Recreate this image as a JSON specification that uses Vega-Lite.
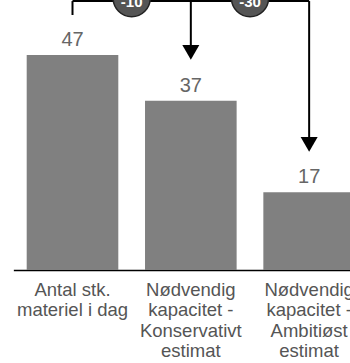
{
  "$schema": "https://vega.github.io/schema/vega-lite/v6.json",
  "width": 350,
  "height": 270,
  "autosize": {"type": "none"},
  "padding": {"left": 0, "right": 0, "top": 0, "bottom": 93},
  "config": {"view": {"stroke": null}, "font": "Liberation Sans"},
  "datasets": {
    "bars": [
      {"kategori": "Antal stk.|materiel i dag", "vaerdi": 47},
      {"kategori": "Nødvendig|kapacitet -|Konservativt|estimat", "vaerdi": 37},
      {"kategori": "Nødvendig|kapacitet -|Ambitiøst|estimat", "vaerdi": 17}
    ],
    "stems": [
      {"kategori": "Antal stk.|materiel i dag", "top": 58.8, "bund": 55.75},
      {"kategori": "Nødvendig|kapacitet -|Konservativt|estimat", "top": 58.8, "bund": 49.0},
      {"kategori": "Nødvendig|kapacitet -|Ambitiøst|estimat", "top": 58.8, "bund": 28.9}
    ],
    "spids": [
      {"kategori": "Nødvendig|kapacitet -|Konservativt|estimat", "y": 47.6},
      {"kategori": "Nødvendig|kapacitet -|Ambitiøst|estimat", "y": 27.45}
    ],
    "forskel": [
      {"kategori": "Antal stk.|materiel i dag", "tekst": "-10"},
      {"kategori": "Nødvendig|kapacitet -|Konservativt|estimat", "tekst": "-30"}
    ]
  },
  "encoding": {
    "x": {
      "field": "kategori",
      "type": "nominal",
      "sort": null,
      "scale": {"range": [13.35, 368.3], "paddingInner": 0.2257, "paddingOuter": 0.1128},
      "axis": {
        "title": null,
        "ticks": false,
        "labelAngle": 0,
        "labelExpr": "split(datum.label, '|')",
        "labelFontSize": 18.5,
        "labelLineHeight": 20.5,
        "labelColor": "#555555",
        "labelFont": "Liberation Sans",
        "labelPadding": 10,
        "labelOverlap": false,
        "labelBound": false,
        "labelLimit": 300,
        "domainColor": "#000000",
        "domainWidth": 1.5,
        "grid": false
      }
    }
  },
  "layer": [
    {
      "data": {"name": "bars"},
      "mark": {"type": "bar", "color": "#808080"},
      "encoding": {
        "y": {"field": "vaerdi", "type": "quantitative", "scale": {"domain": [0, 59.03], "nice": false}, "axis": null}
      }
    },
    {
      "data": {"name": "bars"},
      "mark": {"type": "text", "baseline": "alphabetic", "dy": -9, "fontSize": 20, "color": "#666666", "font": "Liberation Sans"},
      "encoding": {
        "y": {"field": "vaerdi", "type": "quantitative"},
        "text": {"field": "vaerdi", "type": "quantitative"}
      }
    },
    {
      "data": {"name": "stems"},
      "mark": {"type": "rule", "color": "#000000", "strokeWidth": 2},
      "encoding": {
        "y": {"field": "top", "type": "quantitative"},
        "y2": {"field": "bund"}
      }
    },
    {
      "data": {"name": "stems"},
      "mark": {"type": "line", "color": "#000000", "strokeWidth": 2, "clip": false},
      "encoding": {
        "y": {"field": "top", "type": "quantitative"}
      }
    },
    {
      "data": {"name": "spids"},
      "mark": {"type": "point", "shape": "triangle-down", "filled": true, "color": "#000000", "opacity": 1, "size": 290},
      "encoding": {
        "y": {"field": "y", "type": "quantitative"}
      }
    },
    {
      "data": {"name": "forskel"},
      "mark": {"type": "point", "shape": "circle", "filled": true, "fill": "#555555", "stroke": "#222222", "strokeWidth": 1.5, "opacity": 1, "size": 1380},
      "encoding": {
        "x": {"field": "kategori", "type": "nominal", "sort": null, "bandPosition": 1.146},
        "y": {"datum": 59.44, "type": "quantitative"}
      }
    },
    {
      "data": {"name": "forskel"},
      "mark": {"type": "text", "baseline": "alphabetic", "fontSize": 15, "fontWeight": "bold", "color": "#ffffff", "font": "Liberation Sans"},
      "encoding": {
        "x": {"field": "kategori", "type": "nominal", "sort": null, "bandPosition": 1.146},
        "y": {"datum": 57.43, "type": "quantitative"},
        "text": {"field": "tekst", "type": "nominal"}
      }
    }
  ]
}
